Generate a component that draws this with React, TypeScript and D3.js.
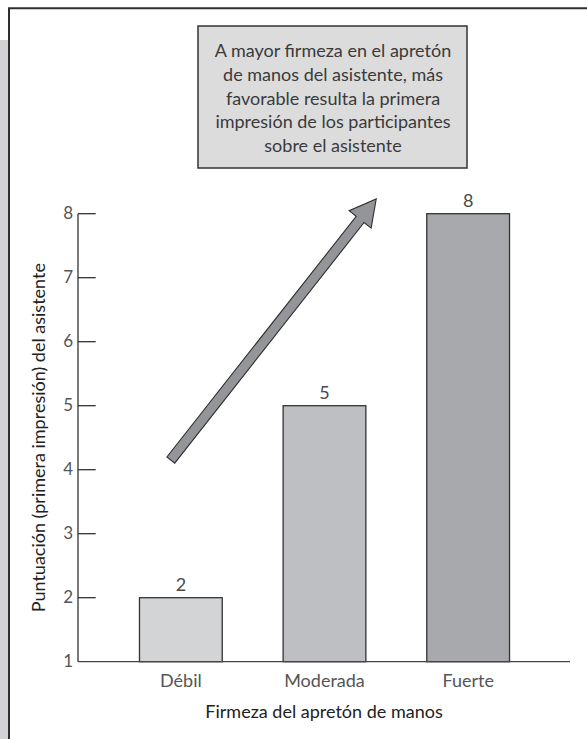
import React from "react";
import * as d3 from "d3";

const categories = ["Débil", "Moderada", "Fuerte"];
const values = [2, 5, 8];
const barColors = ["#d3d4d6", "#bebfc2", "#a8a9ac"];
const yTicks = [1, 2, 3, 4, 5, 6, 7, 8];
const boxLines = [
  "A mayor firmeza en el apretón",
  "de manos del asistente, más",
  "favorable resulta la primera",
  "impresión de los participantes",
  "sobre el asistente",
];
const xTitle = "Firmeza del apretón de manos";
const yTitle = "Puntuación (primera impresión) del asistente";
// arrow in data space: [band index offset, value]
const arrowStart = [-0.07, 4.15];
const arrowEnd = [1.36, 8.23];

const W = 587;
const H = 739;
const FONT = "Lato, 'Open Sans', sans-serif";

export default function App() {
  const x = d3
    .scaleBand<string>()
    .domain(categories)
    .range([78, 571])
    .paddingInner(0.424)
    .paddingOuter(0.428);
  const y = d3.scaleLinear().domain([1, 8]).range([661.7, 213.7]);
  const bw = x.bandwidth();
  const step = x.step();
  const cx = (i: number) => (x(categories[0]) as number) + bw / 2 + i * step;

  // arrow geometry
  const x0 = cx(arrowStart[0]);
  const y0 = y(arrowStart[1]);
  const x1 = cx(arrowEnd[0]);
  const y1 = y(arrowEnd[1]);
  const len = Math.hypot(x1 - x0, y1 - y0);
  const ang = (Math.atan2(y1 - y0, x1 - x0) * 180) / Math.PI;
  const sw = 5; // half shaft width
  const hl = 26; // head length
  const hw = 14; // half head width
  const arrowPts = [
    [0, -sw],
    [len - hl, -sw],
    [len - hl, -hw],
    [len, 0],
    [len - hl, hw],
    [len - hl, sw],
    [0, sw],
  ]
    .map((p) => p.join(","))
    .join(" ");

  const plotCenterX = (78 + 570) / 2;
  const plotCenterY = (y(1) + y(8)) / 2;

  return (
    <svg
      width={W}
      height={H}
      style={{ position: "absolute", left: 0, top: 0, display: "block" }}
      fontFamily={FONT}
    >
      <rect x={0} y={0} width={W} height={H} fill="#ffffff" />
      {/* gray side strip and frame */}
      <rect x={0} y={40} width={8} height={H - 40} fill="#d3d3d5" />
      <line x1={9} y1={8.3} x2={9} y2={H} stroke="#2e2e2e" strokeWidth={2} />
      <line x1={8} y1={8.3} x2={W} y2={8.3} stroke="#2e2e2e" strokeWidth={2} />

      {/* annotation box */}
      <rect x={198} y={26} width={269} height={142} fill="#dcdcdd" stroke="#333" strokeWidth={1.5} />
      {boxLines.map((t, i) => (
        <text
          key={i}
          x={333}
          y={57.3 + i * 23.6}
          textAnchor="middle"
          fontSize={18}
          fill="#3a3a3a"
        >
          {t}
        </text>
      ))}

      {/* bars */}
      {categories.map((c, i) => (
        <g key={c}>
          <rect
            x={x(c)}
            y={y(values[i])}
            width={bw}
            height={y(1) - y(values[i])}
            fill={barColors[i]}
            stroke="#333"
            strokeWidth={1.3}
          />
          <text
            x={(x(c) as number) + bw / 2}
            y={y(values[i]) - 6.5}
            textAnchor="middle"
            fontSize={18}
            fill="#4a4a4a"
          >
            {values[i]}
          </text>
          <text
            x={(x(c) as number) + bw / 2}
            y={687}
            textAnchor="middle"
            fontSize={18}
            fill="#555"
          >
            {c}
          </text>
        </g>
      ))}

      {/* y axis */}
      <line x1={78} y1={y(1)} x2={78} y2={y(8)} stroke="#333" strokeWidth={1.3} />
      <line x1={78} y1={y(1)} x2={570} y2={y(1)} stroke="#444" strokeWidth={1.3} />
      {yTicks.map((t) => (
        <g key={t}>
          {t > 1 && (
            <line x1={78} y1={y(t)} x2={95.7} y2={y(t)} stroke="#333" strokeWidth={1.3} />
          )}
          <text x={73} y={y(t) + 5.5} textAnchor="end" fontSize={17} fill="#555">
            {t}
          </text>
        </g>
      ))}

      {/* arrow */}
      <polygon
        points={arrowPts}
        transform={`translate(${x0},${y0}) rotate(${ang})`}
        fill="#949599"
        stroke="#2e2e2e"
        strokeWidth={1.1}
        strokeLinejoin="miter"
      />

      {/* axis titles */}
      <text x={plotCenterX} y={718} textAnchor="middle" fontSize={18} fill="#222">
        {xTitle}
      </text>
      <text
        transform={`translate(44.5,${plotCenterY}) rotate(-90)`}
        textAnchor="middle"
        fontSize={18}
        fill="#222"
      >
        {yTitle}
      </text>
    </svg>
  );
}
